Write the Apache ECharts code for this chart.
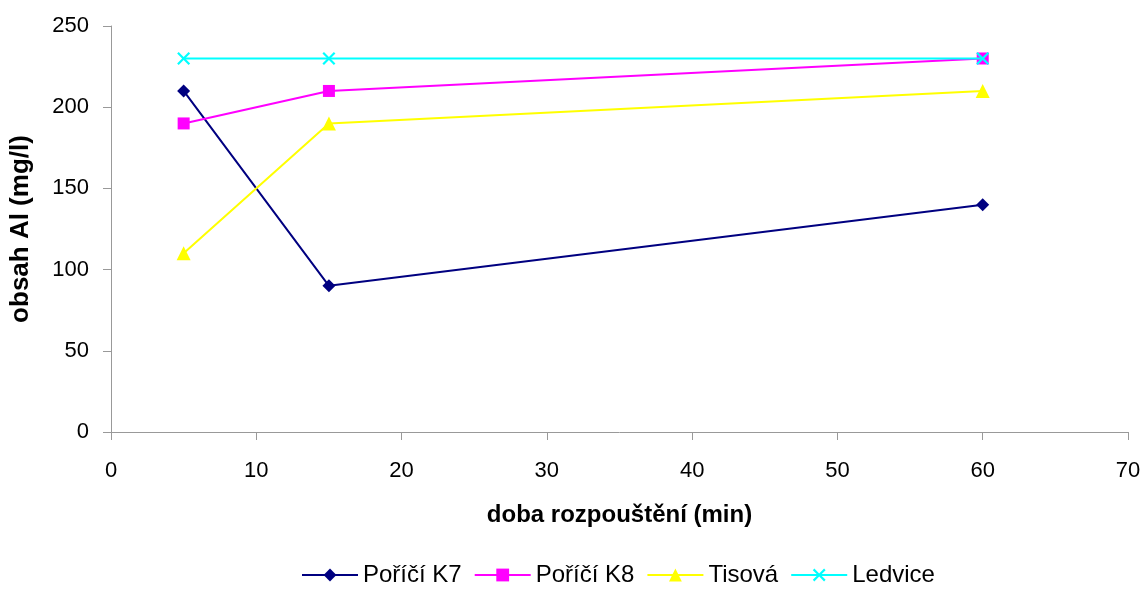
<!DOCTYPE html>
<html>
<head>
<meta charset="utf-8">
<script src="https://cdn.jsdelivr.net/npm/echarts@6/dist/echarts.min.js"></script>
<style>
  html, body { margin: 0; padding: 0; background: #fff; }
  #chart { width: 1144px; height: 593px; }
</style>
</head>
<body>
<div id="chart"></div>
<script>
// Dissolution time (min) and aluminium content (mg/l) per sample site
const times = [5, 15, 60];
const poriciK7 = [210, 90, 140];
const poriciK8 = [190, 210, 230];
const tisova = [110, 190, 210];
const ledvice = [230, 230, 230];

const seriesNames = ['Poříčí K7', 'Poříčí K8', 'Tisová', 'Ledvice'];
const xTicks = [0, 10, 20, 30, 40, 50, 60, 70];
const yTicks = [0, 50, 100, 150, 200, 250];

// filled "x" cross marker
const xMarker = 'path://M0,1.2L1.2,0L5,3.8L8.8,0L10,1.2L6.2,5L10,8.8L8.8,10L5,6.2L1.2,10L0,8.8L3.8,5Z';

function pairs(vals) { return times.map((t, i) => [t, vals[i]]); }

const styles = [
  { data: poriciK7, color: '#000080', symbol: 'diamond', size: 13 },
  { data: poriciK8, color: '#FF00FF', symbol: 'rect', size: 12 },
  { data: tisova, color: '#FFFF00', symbol: 'triangle', size: 14 },
  { data: ledvice, color: '#00FFFF', symbol: xMarker, size: 13 }
];

const chart = echarts.init(document.getElementById('chart'), null, { renderer: 'canvas' });
const font = 'Liberation Sans, Arial, sans-serif';

chart.setOption({
  animation: false,
  backgroundColor: '#fff',
  grid: { left: 109, right: 16, top: 26, bottom: 161 },
  xAxis: {
    type: 'value',
    min: xTicks[0], max: xTicks[xTicks.length - 1], interval: 10,
    name: 'doba rozpouštění (min)',
    nameLocation: 'middle', nameGap: 71,
    nameTextStyle: { fontFamily: font, fontSize: 24, fontWeight: 'bold', color: '#000' },
    axisLine: { lineStyle: { color: '#999', width: 1 } },
    axisTick: { length: 8, lineStyle: { color: '#999' } },
    axisLabel: { fontFamily: font, fontSize: 22, color: '#000', margin: 28 },
    splitLine: { show: false }
  },
  yAxis: {
    type: 'value',
    min: yTicks[0], max: yTicks[yTicks.length - 1], interval: 50,
    name: 'obsah Al (mg/l)',
    nameLocation: 'middle', nameGap: 77,
    nameTextStyle: { fontFamily: font, fontSize: 26, fontWeight: 'bold', color: '#000' },
    axisLine: { show: true, lineStyle: { color: '#999', width: 1 } },
    axisTick: { show: true, length: 8, lineStyle: { color: '#999' } },
    axisLabel: { fontFamily: font, fontSize: 22, color: '#000', margin: 22 },
    splitLine: { show: false }
  },
  legend: {
    bottom: 1, left: 296,
    itemWidth: 56, itemHeight: 16, itemGap: 12,
    textStyle: { fontFamily: font, fontSize: 24, color: '#000' },
    data: seriesNames
  },
  series: styles.map((s, i) => ({
    name: seriesNames[i],
    type: 'line',
    data: pairs(s.data),
    symbol: s.symbol,
    symbolSize: s.size,
    showAllSymbol: true,
    lineStyle: { color: s.color, width: 2 },
    itemStyle: { color: s.color, borderColor: s.color, borderWidth: 0 },
    z: 2 + i
  }))
});
</script>
</body>
</html>
